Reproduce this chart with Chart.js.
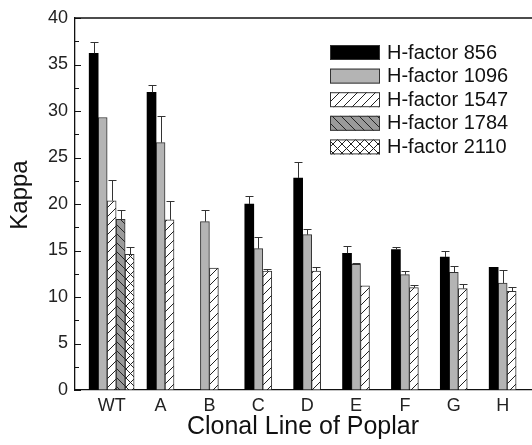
<!DOCTYPE html>
<html>
<head>
<meta charset="utf-8">
<script src="https://cdn.jsdelivr.net/npm/chart.js"></script>
<style>
  html, body { margin: 0; padding: 0; background: #fff; }
  #wrap { width: 532px; height: 445px; }
</style>
</head>
<body>
<div id="wrap"><canvas id="myChart" width="532" height="445"></canvas></div>
<script>
// clonal lines on the x axis
const categories = ["WT", "A", "B", "C", "D", "E", "F", "G", "H"];
const seriesNames = ["H-factor 856", "H-factor 1096", "H-factor 1547", "H-factor 1784", "H-factor 2110"];

// kappa values (null = no bar)
const hf856 = [36.2, 32.0, null, 20.0, 22.8, 14.7, 15.1, 14.3, 13.2];
const hf1096 = [29.3, 26.6, 18.1, 15.2, 16.7, 13.5, 12.4, 12.65, 11.5];
const hf1547 = [20.35, 18.3, 13.1, 12.8, 12.8, 11.2, 11.0, 10.9, 10.6];
const hf1784 = [18.35, null, null, null, null, null, null, null, null];
const hf2110 = [14.6, null, null, null, null, null, null, null, null];

// upper error bars
const hf856Err = [1.2, 0.8, null, 0.9, 1.7, 0.8, 0.3, 0.6, 0];
const hf1096Err = [0, 2.9, 1.25, 1.2, 0.6, 0.2, 0.4, 0.65, 1.4];
const hf1547Err = [2.25, 2.05, 0, 0.2, 0.4, 0, 0.3, 0.5, 0.5];
const hf1784Err = [1.05, null, null, null, null, null, null, null, null];
const hf2110Err = [0.8, null, null, null, null, null, null, null, null];

const yTicks = [0, 5, 10, 15, 20, 25, 30, 35, 40];

const allValues = [hf856, hf1096, hf1547, hf1784, hf2110];
const allErrors = [hf856Err, hf1096Err, hf1547Err, hf1784Err, hf2110Err];

const FONT = "Arial, 'Liberation Sans', sans-serif";
const BAR_PX = 9;
const BAR_UNITS = 0.184; // one bar width in category units

// Function to build a hatch pattern
function makePattern(bg, kind) {
  const size = 9;
  const c = document.createElement("canvas");
  c.width = size;
  c.height = size;
  const g = c.getContext("2d");
  g.fillStyle = bg;
  g.fillRect(0, 0, size, size);
  g.strokeStyle = "#222";
  g.lineWidth = 1;
  g.beginPath();
  for (const k of [-size, 0, size]) {
    if (kind === "/" || kind === "x") {
      g.moveTo(k, size);
      g.lineTo(k + size, 0);
    }
    if (kind === "\\" || kind === "x") {
      g.moveTo(k, 0);
      g.lineTo(k + size, size);
    }
  }
  g.stroke();
  return g.createPattern(c, "repeat");
}

const fills = [
  "#000000",
  "#b4b4b4",
  makePattern("#ffffff", "/"),
  makePattern("#9a9a9a", "\\"),
  makePattern("#ffffff", "x"),
];

// which series have a bar in each group, so groups are centred on their label
const groupMembers = categories.map((c, i) =>
  allValues.map((vals, s) => (vals[i] !== null ? s : -1)).filter((s) => s >= 0)
);

const datasets = allValues.map((vals, s) => {
  const data = [];
  vals.forEach((v, i) => {
    if (v === null) return;
    const members = groupMembers[i];
    const rank = members.indexOf(s);
    const off = (rank - (members.length - 1) / 2) * BAR_UNITS;
    data.push({ x: i + off, y: v, err: allErrors[s][i] });
  });
  return {
    label: seriesNames[s],
    data: data,
    backgroundColor: fills[s],
    borderColor: s === 0 ? "#000" : "#333",
    borderWidth: s === 0 ? 0 : 1,
    barThickness: BAR_PX,
    grouped: false,
  };
});

// error bars, inward y ticks, frame line, y title and legend
const extras = {
  id: "extras",
  afterDatasetsDraw(chart) {
    const ctx = chart.ctx;
    const yScale = chart.scales.y;
    const a = chart.chartArea;
    ctx.save();
    ctx.strokeStyle = "#333";
    ctx.lineWidth = 1;
    chart.data.datasets.forEach((ds, di) => {
      const meta = chart.getDatasetMeta(di);
      meta.data.forEach((bar, j) => {
        const pt = ds.data[j];
        if (!pt.err) return;
        const x = Math.round(bar.x) + 0.5;
        const y0 = yScale.getPixelForValue(pt.y);
        const y1 = Math.round(yScale.getPixelForValue(pt.y + pt.err)) + 0.5;
        ctx.beginPath();
        ctx.moveTo(x, y0);
        ctx.lineTo(x, y1);
        ctx.moveTo(x - 4, y1);
        ctx.lineTo(x + 4, y1);
        ctx.stroke();
      });
    });

    // y ticks pointing into the plot, minor ones between
    ctx.strokeStyle = "#111";
    ctx.lineWidth = 1.2;
    ctx.beginPath();
    yTicks.forEach((v, i) => {
      const y = Math.round(yScale.getPixelForValue(v)) + 0.5;
      ctx.moveTo(a.left, y);
      ctx.lineTo(a.left + 6, y);
      if (i < yTicks.length - 1) {
        const ym = Math.round(yScale.getPixelForValue(v + 2.5)) + 0.5;
        ctx.moveTo(a.left, ym);
        ctx.lineTo(a.left + 4, ym);
      }
    });
    ctx.stroke();

    // top frame line
    ctx.lineWidth = 1.3;
    ctx.beginPath();
    ctx.moveTo(a.left, a.top);
    ctx.lineTo(chart.width, a.top);
    ctx.stroke();

    // y axis title
    ctx.save();
    ctx.translate(20, 195);
    ctx.rotate(-Math.PI / 2);
    ctx.font = "24px " + FONT;
    ctx.textAlign = "center";
    ctx.textBaseline = "middle";
    ctx.fillStyle = "#111";
    ctx.fillText("Kappa", 0, 0);
    ctx.restore();

    // legend
    const lx = 330, ly = 45, rowH = 23.6;
    ctx.font = "20px " + FONT;
    ctx.textBaseline = "middle";
    chart.data.datasets.forEach((ds, i) => {
      const y = ly + i * rowH;
      ctx.fillStyle = ds.backgroundColor;
      ctx.fillRect(lx, y, 50, 15);
      ctx.strokeStyle = "#333";
      ctx.lineWidth = 1;
      ctx.strokeRect(lx + 0.5, y + 0.5, 49, 14);
      ctx.fillStyle = "#111";
      ctx.fillText(ds.label, lx + 57, y + 8);
    });
    ctx.restore();
  },
};

const ctx = document.getElementById("myChart");
new Chart(ctx, {
  type: "bar",
  data: { datasets: datasets },
  options: {
    responsive: false,
    animation: false,
    layout: { padding: { top: 18, right: 1, left: 0, bottom: 0 } },
    plugins: { legend: { display: false }, tooltip: { enabled: false } },
    scales: {
      x: {
        type: "linear",
        offset: false,
        min: -0.75,
        max: 8.58,
        afterBuildTicks: (scale) => {
          scale.ticks = categories.map((c, i) => ({ value: i }));
        },
        afterFit: (scale) => {
          scale.height = 55;
        },
        ticks: {
          callback: (v) => categories[v],
          color: "#222",
          font: { family: FONT, size: 18 },
          padding: 5,
          maxRotation: 0,
          autoSkip: false,
        },
        grid: { display: false, drawTicks: false },
        border: { display: true, color: "#111", width: 1.3 },
        title: {
          display: true,
          text: "Clonal Line of Poplar",
          color: "#111",
          font: { family: FONT, size: 25 },
          padding: { top: 0, bottom: 3 },
        },
      },
      y: {
        min: 0,
        max: 40,
        afterBuildTicks: (scale) => {
          scale.ticks = yTicks.map((v) => ({ value: v }));
        },
        afterFit: (scale) => {
          scale.width = 75;
        },
        ticks: {
          color: "#222",
          font: { family: FONT, size: 18 },
          padding: 7,
        },
        grid: { drawOnChartArea: false, drawTicks: false },
        border: { display: true, color: "#111", width: 1.3 },
        title: { display: false },
      },
    },
  },
  plugins: [extras],
});
</script>
</body>
</html>
